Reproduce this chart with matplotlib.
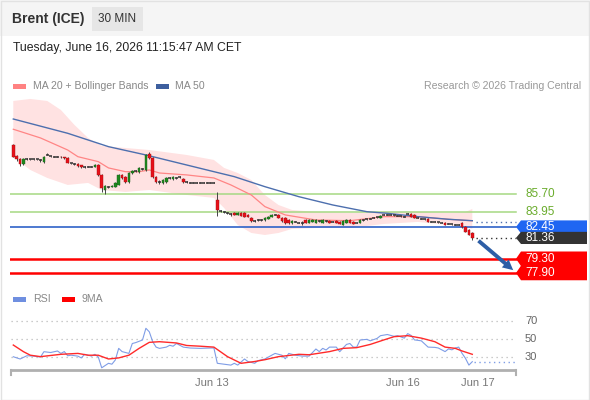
import matplotlib
matplotlib.use('Agg')
import matplotlib.pyplot as plt
from matplotlib.patches import Rectangle, Polygon
from matplotlib.transforms import blended_transform_factory
import numpy as np

plt.rcParams['font.family'] = ['Liberation Sans', 'DejaVu Sans']

# ---------------- data ----------------
opens = [
    90.54, 89.45, 89.15, 88.66, 89.15, 89.15, 89.15, 89.11, 89.06, 88.86,
    89.55, 89.40, 89.35, 89.35, 89.35, 89.30, 89.25, 88.71, 88.66, 88.66,
    88.56, 88.37, 88.37, 88.37, 88.37, 88.56, 87.58, 86.09, 86.39, 86.39,
    86.39, 86.59, 87.58, 87.38, 86.88, 87.77, 87.97, 87.87, 88.17, 88.07,
    89.65, 89.25, 87.38, 86.88, 86.79, 86.88, 87.28, 87.18, 87.28, 87.38,
    87.18, 86.88, 86.83, 86.79, 86.79, 86.79, 86.79, 86.79, 86.79, 86.79,
    85.11, 84.02, 83.92, 83.82, 83.73, 83.82, 83.63, 83.82, 83.82, 83.63,
    83.33, 83.03, 83.13, 83.13, 83.13, 83.23, 83.43, 83.63, 83.63, 83.33,
    83.33, 83.13, 82.84, 82.94, 82.84, 82.84, 83.13, 82.84, 82.94, 82.84,
    83.03, 82.84, 83.03, 83.03, 82.94, 83.03, 82.94, 82.64, 82.84, 83.13,
    82.94, 82.84, 82.84, 83.13, 83.20, 83.23, 83.33, 83.38, 83.33, 83.63,
    83.63, 83.63, 83.58, 83.53, 83.48, 83.43, 83.73, 83.73, 83.63, 83.33,
    83.23, 83.18, 83.23, 82.94, 82.94, 82.89, 82.84, 82.84, 82.74, 82.69,
    82.64, 82.64, 82.84, 82.44, 82.15, 81.85]
closes = [
    89.35, 89.15, 88.66, 89.15, 89.15, 89.15, 89.15, 89.11, 89.06, 89.35,
    89.55, 89.40, 89.35, 89.35, 89.30, 89.25, 88.76, 88.71, 88.66, 88.46,
    88.37, 88.37, 88.37, 88.37, 88.56, 87.58, 86.29, 86.49, 86.39, 86.49,
    86.79, 87.58, 87.28, 86.88, 87.77, 87.97, 87.97, 88.27, 88.17, 89.55,
    89.25, 87.38, 86.88, 86.88, 87.08, 87.28, 87.28, 87.38, 87.28, 87.38,
    86.88, 86.88, 86.83, 86.79, 86.79, 86.79, 86.79, 86.79, 86.79, 86.79,
    84.12, 84.02, 83.92, 83.82, 83.73, 83.63, 83.82, 83.53, 83.43, 83.43,
    83.03, 83.03, 83.13, 83.13, 83.33, 83.43, 83.63, 83.63, 83.33, 83.03,
    82.84, 82.84, 83.03, 82.94, 82.84, 82.84, 82.84, 83.13, 83.13, 83.13,
    83.03, 83.13, 83.03, 82.84, 82.94, 82.84, 82.74, 83.03, 83.13, 82.84,
    82.74, 82.84, 83.13, 83.13, 83.20, 83.23, 83.33, 83.38, 83.53, 83.63,
    83.63, 83.63, 83.58, 83.53, 83.48, 83.43, 83.73, 83.43, 83.33, 83.33,
    83.23, 83.18, 82.94, 82.94, 82.94, 82.89, 82.84, 82.64, 82.74, 82.69,
    82.64, 82.64, 82.44, 81.95, 81.65, 81.36]
highs = [
    90.63, 89.55, 89.25, 89.25, 89.25, 89.20, 89.20, 89.16, 89.15, 89.45,
    89.75, 89.45, 89.40, 89.40, 89.40, 89.35, 89.30, 88.76, 88.71, 88.71,
    88.60, 88.42, 88.42, 88.42, 88.62, 88.62, 87.67, 86.59, 86.49, 86.55,
    86.85, 87.67, 87.70, 87.45, 87.85, 88.05, 88.05, 88.35, 88.27, 89.65,
    89.85, 89.30, 87.45, 87.08, 87.15, 87.35, 87.35, 87.45, 87.35, 87.45,
    87.25, 86.95, 86.88, 86.84, 86.84, 86.84, 86.84, 86.84, 86.84, 86.84,
    85.90, 84.10, 84.00, 83.90, 83.82, 83.90, 83.90, 83.88, 83.88, 83.68,
    83.40, 83.10, 83.20, 83.18, 83.40, 83.50, 83.70, 83.70, 83.70, 83.40,
    83.40, 83.20, 83.10, 83.00, 82.90, 83.03, 83.20, 83.20, 83.20, 83.20,
    83.10, 83.20, 83.10, 83.10, 83.00, 83.10, 83.00, 83.10, 83.20, 83.20,
    83.00, 82.90, 83.20, 83.18, 83.25, 83.28, 83.38, 83.43, 83.60, 83.68,
    83.68, 83.68, 83.63, 83.58, 83.53, 83.48, 83.80, 83.80, 83.68, 83.38,
    83.28, 83.23, 83.28, 83.00, 83.00, 82.94, 82.90, 82.90, 82.80, 82.74,
    82.70, 82.70, 82.94, 82.50, 82.20, 81.95]
lows = [
    89.30, 88.96, 88.46, 88.56, 89.06, 89.10, 89.10, 89.06, 88.86, 88.76,
    89.50, 89.35, 89.30, 89.30, 89.25, 89.20, 88.71, 88.66, 88.56, 88.41,
    88.30, 88.30, 88.32, 88.32, 88.32, 87.50, 85.90, 85.70, 86.29, 86.35,
    86.35, 86.55, 87.20, 86.80, 86.80, 87.70, 87.90, 87.80, 88.10, 88.00,
    89.15, 87.30, 86.80, 86.69, 86.72, 86.80, 87.20, 87.12, 87.22, 87.30,
    86.82, 86.82, 86.78, 86.74, 86.74, 86.74, 86.74, 86.74, 86.74, 86.74,
    83.53, 83.95, 83.85, 83.75, 83.53, 83.58, 83.58, 83.48, 83.38, 83.38,
    82.98, 82.98, 83.08, 83.08, 83.08, 83.18, 83.38, 83.58, 83.28, 82.98,
    82.78, 82.78, 82.78, 82.89, 82.79, 82.64, 82.79, 82.79, 82.89, 82.79,
    82.98, 82.79, 82.98, 82.79, 82.89, 82.79, 82.69, 82.59, 82.79, 82.79,
    82.69, 82.79, 82.79, 83.08, 83.15, 83.18, 83.28, 83.33, 83.28, 83.58,
    83.58, 83.58, 83.53, 83.48, 83.43, 83.38, 83.68, 83.38, 83.28, 83.28,
    83.18, 83.13, 82.89, 82.89, 82.89, 82.84, 82.79, 82.59, 82.69, 82.64,
    82.59, 82.59, 82.34, 81.90, 81.60, 81.16]

ma20_idx = [0, 8, 16, 19, 25, 28, 33, 37, 40, 43, 51, 59, 64, 70, 74, 80, 89, 99, 109, 119, 128, 135]
ma20 = [92.09, 91.23, 90.04, 89.38, 88.89, 88.27, 87.90, 87.90, 88.07, 87.77, 87.58, 87.28,
        86.59, 85.60, 84.45, 83.63, 83.13, 83.06, 83.46, 83.46, 83.20, 83.05]
ma50_idx = [0, 16, 28, 39, 51, 59, 65, 74, 84, 94, 104, 110, 119, 128, 135]
ma50 = [93.10, 91.69, 90.37, 89.55, 88.56, 87.90, 87.41, 86.42, 85.43, 84.61, 83.95, 83.79,
        83.46, 83.20, 83.06]
ma50_projection = 82.97

bb_up_idx = [0, 5, 10, 14, 18, 22, 26, 33, 40, 51, 59, 62, 66, 70, 74, 78, 82, 89, 99, 109,
             119, 128, 133, 135]
bb_upper = [94.88, 95.08, 94.88, 93.99, 92.51, 91.23, 90.44, 90.24, 90.04, 89.55, 89.06, 88.27,
            87.77, 87.08, 85.60, 84.61, 84.12, 83.92, 83.82, 83.92, 83.92, 83.82, 83.92, 84.22]
bb_lo_idx = [0, 5, 10, 16, 22, 26, 33, 40, 51, 59, 62, 66, 70, 74, 78, 82, 89, 99, 109, 119,
             128, 133, 135]
bb_lower = [89.35, 88.07, 87.28, 86.59, 86.79, 86.09, 85.90, 86.09, 85.60, 85.31, 84.32, 82.64,
            81.85, 81.65, 81.85, 82.25, 82.34, 82.34, 82.74, 82.94, 82.64, 82.44, 82.25]

rsi_idx = [0, 2, 4, 6, 8, 9, 11, 13, 14, 15, 16, 17, 19, 20, 21, 23, 24, 25, 26, 28, 29, 30, 31,
           32, 34, 35, 36, 38, 39, 40, 41, 42, 43, 45, 46, 47, 48, 50, 52, 55, 58, 59, 60, 62,
           64, 65, 66, 68, 69, 71, 72, 74, 76, 77, 79, 80, 81, 83, 85, 87, 89, 90, 91, 92, 93,
           95, 96, 98, 99, 100, 101, 102, 104, 105, 107, 108, 110, 111, 112, 113, 115, 116, 117,
           118, 120, 122, 124, 125, 126, 127, 128, 129, 130, 131, 132, 133, 134, 135]
rsi = [30.3, 27.8, 31.4, 31, 30, 35.9, 35, 36.7, 34, 36, 31.4, 32, 31, 29, 33, 31, 33, 30, 18,
       23, 22, 26.7, 39.6, 36, 34, 45, 46, 48.9, 61.9, 58, 47, 41, 39.6, 41, 43, 42, 45, 41, 40,
       39.6, 40, 40, 23, 22, 21, 23, 21, 27.8, 25, 23, 26, 27.8, 32, 34, 32, 28, 34, 32, 31, 31,
       38.9, 36, 39.6, 37.8, 41, 41, 35.9, 44, 45, 41, 41, 48.9, 49.6, 48, 50.7, 53.7, 55, 54,
       53, 53.7, 51, 56, 54, 49, 48, 41, 40.7, 40, 38, 36, 39, 38, 40, 41, 34, 28.5, 21, 24.8]
ma9_idx = [0, 3, 5, 8, 14, 19, 22, 25, 28, 31, 34, 37, 40, 43, 48, 51, 55, 59, 63, 67, 71, 74,
           78, 84, 87, 93, 97, 101, 105, 109, 112, 116, 120, 124, 127, 130, 132, 135]
ma9 = [43.3, 35.9, 32, 30.4, 33, 34, 32, 32, 27.8, 29, 32, 39.6, 46.3, 47, 45.6, 42.8, 42, 41,
       30.4, 23, 25, 27, 30.4, 33, 32.5, 36, 39.6, 40.4, 44, 49, 52.6, 53.7, 51, 47, 41, 39.6,
       36.7, 33]

resistance_levels = [85.70, 83.95]
pivot_level = 82.45
support_levels = [79.30, 77.90]
rsi_grid = [30, 50, 70]
date_tick_pos = [58.5, 114.5, 136.5]
date_tick_labels = ['Jun 13', 'Jun 16', 'Jun 17']

# ---------------- figure ----------------
W, H = 590, 400
fig = plt.figure(figsize=(W / 100, H / 100), dpi=100)
fig.patch.set_facecolor('white')

def fx(px):
    return px / W

def fy(py):
    return 1 - py / H

# header band
fig.patches.append(Rectangle((0, fy(36)), 1, 36 / H, transform=fig.transFigure,
                             facecolor='#f5f5f5', edgecolor='none', zorder=0))
fig.patches.append(Rectangle((fx(92), fy(31)), 51 / W, 24 / H, transform=fig.transFigure,
                             facecolor='#e6e6e6', edgecolor='none', zorder=1))
fig.patches.append(Rectangle((0.5 / W, 0.5 / H), 1 - 1.5 / W, 1 - 1.5 / H,
                             transform=fig.transFigure, facecolor='none',
                             edgecolor='#e2e2e2', lw=1, zorder=0))
fig.text(fx(12), fy(19), 'Brent (ICE)', fontsize=10, fontweight='bold', color='#333333',
         va='center', ha='left')
fig.text(fx(117.5), fy(19), '30 MIN', fontsize=8.5, color='#333333', va='center', ha='center')
fig.text(fx(13), fy(48), 'Tuesday, June 16, 2026 11:15:47 AM CET', fontsize=8.8,
         color='#222222', va='center', ha='left')

# legends
fig.patches.append(Rectangle((fx(13), fy(88.5)), 13 / W, 5 / H, transform=fig.transFigure,
                             facecolor='#ff8282', edgecolor='none'))
fig.text(fx(33), fy(86), 'MA 20 + Bollinger Bands', fontsize=7.6, color='#888888', va='center')
fig.patches.append(Rectangle((fx(156), fy(88.5)), 13 / W, 5 / H, transform=fig.transFigure,
                             facecolor='#3d5f9e', edgecolor='none'))
fig.text(fx(175), fy(86), 'MA 50', fontsize=7.6, color='#888888', va='center')
fig.text(fx(581), fy(86), 'Research \u00a9 2026 Trading Central', fontsize=7.6,
         color='#999999', va='center', ha='right')
fig.patches.append(Rectangle((fx(13), fy(301.5)), 13 / W, 5 / H, transform=fig.transFigure,
                             facecolor='#6f8fe0', edgecolor='none'))
fig.text(fx(33), fy(299), 'RSI', fontsize=7.6, color='#888888', va='center')
fig.patches.append(Rectangle((fx(62), fy(301.5)), 13 / W, 5 / H, transform=fig.transFigure,
                             facecolor='#ff0000', edgecolor='none'))
fig.text(fx(82), fy(299), '9MA', fontsize=7.6, color='#888888', va='center')

# ---------------- main price axes ----------------
XL = (-0.97, 149.03)
ax = fig.add_axes([fx(10), fy(283), 510 / W, 188 / H])
ax.set_xlim(*XL)
ax.set_ylim(76.91, 95.47)
ax.axis('off')
tr = blended_transform_factory(ax.transAxes, ax.transData)
x_end_frac = (516 - 10) / 510
x_end = XL[0] + x_end_frac * (XL[1] - XL[0])

n = min(len(opens), len(closes), len(highs), len(lows))
idx = np.arange(n)

# Bollinger band
poly_x = list(bb_up_idx) + list(bb_lo_idx[::-1])
poly_y = list(bb_upper) + list(bb_lower[::-1])
ax.fill(poly_x, poly_y, color='#ffe2e2', lw=0, zorder=1)

# level lines
for lv in resistance_levels:
    ax.axhline(lv, xmin=0, xmax=x_end_frac, color='#a6d883', lw=1.1, zorder=2)
    ax.text((525 - 10) / 510, lv, f'{lv:.2f}', transform=tr, color='#6aac2c', fontsize=8.5,
            va='center', ha='left', clip_on=False)
ax.axhline(pivot_level, xmin=0, xmax=x_end_frac, color='#2f62c8', lw=1.2, zorder=2)
for lv in support_levels:
    ax.axhline(lv, xmin=0, xmax=x_end_frac, color='#ff0000', lw=1.8, zorder=2)

# moving averages
ax.plot(ma20_idx, ma20, color='#ff8585', lw=0.9, zorder=3)
ax.plot(ma50_idx, ma50, color='#4d6fae', lw=1.0, zorder=3)
ax.hlines(ma50_projection, ma50_idx[-1] + 1, x_end, color='#4d6fae', lw=1.0,
          linestyles=(0, (1, 2.5)), zorder=3)
ax.hlines(closes[n - 1], n - 1 + 1, x_end, color='#333333', lw=1.0,
          linestyles=(0, (1, 2.5)), zorder=3)

# candles
for i in range(n):
    o, c, h, l = opens[i], closes[i], highs[i], lows[i]
    ax.vlines(i, l, h, color='#444444', lw=0.7, zorder=4)
    if abs(c - o) < 0.02:
        ax.hlines(c, i - 0.45, i + 0.45, color='#333333', lw=1.1, zorder=5)
    else:
        col = '#1f8a1f' if c > o else '#e8101a'
        edge = '#1a5e1a' if c > o else '#9e1010'
        ax.bar(i, c - o, bottom=o, width=0.72, color=col, edgecolor=edge, lw=0.3, zorder=5)

# arrow toward target
ax.annotate('', xy=(x_end - 0.2, support_levels[-1] + 0.1),
            xytext=(n - 1 + 1.2, closes[n - 1] - 0.1),
            arrowprops=dict(arrowstyle='simple,head_width=0.75,head_length=0.75,tail_width=0.28',
                            mutation_scale=10, color='#2d5ea6', lw=0),
            zorder=6, annotation_clip=False)

# price tags
def tag(y, text, color, half):
    tip = (516 - 10) / 510
    rl = (521 - 10) / 510
    rr = (587 - 10) / 510
    p = Polygon([(tip, y), (rl, y + half), (rr, y + half), (rr, y - half), (rl, y - half)],
                closed=True, transform=tr, facecolor=color, edgecolor='none',
                clip_on=False, zorder=7)
    ax.add_patch(p)
    ax.text((525 - 10) / 510, y, text, transform=tr, color='white', fontsize=8.5,
            va='center', ha='left', clip_on=False, zorder=8)

tag(pivot_level, f'{pivot_level:.2f}', '#1f66f2', 0.64)
tag(closes[n - 1], f'{closes[n - 1]:.2f}', '#333333', 0.60)
for lv in support_levels:
    tag(lv, f'{lv:.2f}', '#ff0000', 0.72)

# ---------------- RSI axes ----------------
ax2 = fig.add_axes([fx(10), fy(370), 510 / W, 65 / H])
ax2.set_xlim(*XL)
ax2.set_ylim(15.56, 87.8)
ax2.axis('off')
tr2 = blended_transform_factory(ax2.transAxes, ax2.transData)
for g in rsi_grid:
    ax2.axhline(g, xmin=0.002, xmax=x_end_frac - 0.002, color='#bbbbbb', lw=0.9,
                ls=(0, (1, 3)), zorder=1)
    ax2.text((525 - 10) / 510, g, str(g), transform=tr2, color='#666666', fontsize=8,
             va='center', ha='left', clip_on=False)
ax2.plot(rsi_idx, rsi, color='#7f9de6', lw=0.8, zorder=3)
ax2.hlines(rsi[-1], rsi_idx[-1] + 0.5, x_end, color='#7f9de6', lw=1.0,
           linestyles=(0, (1, 2.5)), zorder=3)
ax2.plot(ma9_idx, ma9, color='#ff2a2a', lw=1.0, zorder=4)
ax2.plot([0.002, x_end_frac], [0, 0], transform=ax2.transAxes, color='#b0b0b0', lw=2,
         clip_on=False, solid_capstyle='butt')
for xe in (0.002, x_end_frac):
    ax2.plot([xe, xe], [0, -5 / 65], transform=ax2.transAxes, color='#b0b0b0', lw=1.5,
             clip_on=False)
for p, lab in zip(date_tick_pos, date_tick_labels):
    ax2.text(p, -13 / 65, lab, transform=blended_transform_factory(ax2.transData, ax2.transAxes),
             ha='center', va='center', fontsize=8, color='#777777', clip_on=False)

fig.savefig('out.png', dpi=100, facecolor='white')
